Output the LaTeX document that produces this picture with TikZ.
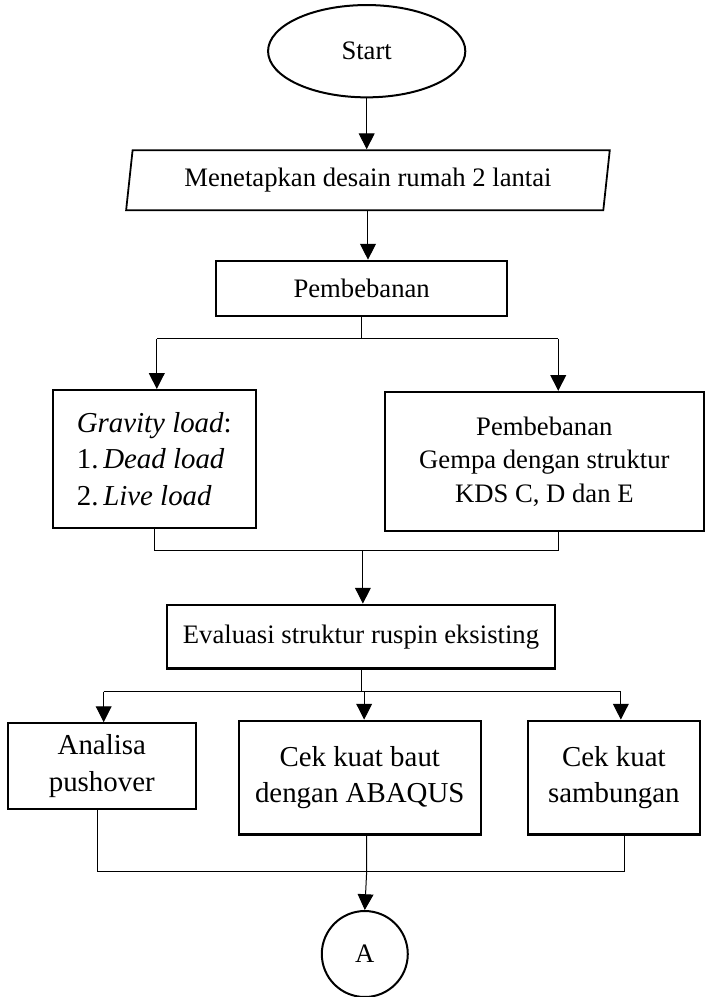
\documentclass[tikz,border=0pt]{standalone}
\usepackage{fontspec}
\setmainfont{Liberation Serif}
\usetikzlibrary{shapes.geometric,arrows.meta,positioning,calc}

\begin{document}
\begin{tikzpicture}[
    font=\fontsize{12}{15}\selectfont,
    big/.style={font=\fontsize{13}{16.5}\selectfont},
    term/.style={draw, ellipse, line width=0.9pt, minimum width=3.12cm, minimum height=1.46cm, inner sep=0pt},
    io/.style={draw, trapezium, trapezium left angle=75, trapezium right angle=105, trapezium stretches body, line width=0.8pt, minimum width=7.65cm, minimum height=0.95cm, inner sep=0pt},
    proc/.style={draw, rectangle, line width=1pt, align=center, inner sep=2pt},
    conn/.style={draw, circle, line width=0.9pt, minimum size=1.36cm, inner sep=0pt},
    link/.style={line width=0.45pt},
    arrow/.style={-{Triangle[length=2.5mm, width=2.5mm]}, line width=0.45pt}
]
\useasboundingbox (0,0) rectangle (11.18,-15.77);

\node[term] (start) at (5.80,-0.81) {Start};
\node[io] (desain) at (5.82,-2.85) {Menetapkan desain rumah 2 lantai};
\node[proc, minimum width=4.60cm, minimum height=0.87cm] (beban) at (5.72,-4.56) {Pembebanan};

\node[proc, big, align=left, minimum width=3.21cm, minimum height=2.18cm] (gravity) at (2.44,-7.26) {\textit{Gravity load}:\\1.\,\textit{Dead load}\\2.\,\textit{Live load}};
\node[proc, minimum width=5.05cm, minimum height=2.20cm] (gempa) at (8.61,-7.30) {Pembebanan\\Gempa dengan struktur\\KDS C, D dan E};

\node[proc, minimum width=6.14cm, minimum height=1.01cm] (evaluasi) at (5.71,-10.07) {Evaluasi struktur ruspin eksisting};

\node[proc, big, minimum width=2.97cm, minimum height=1.36cm] (pushover) at (1.61,-12.12) {Analisa\\pushover};
\node[proc, big, minimum width=3.83cm, minimum height=1.80cm] (baut) at (5.69,-12.30) {Cek kuat baut\\dengan ABAQUS};
\node[proc, big, minimum width=2.72cm, minimum height=1.80cm] (sambungan) at (9.71,-12.30) {Cek kuat\\sambungan};

\node[conn] (A) at (5.77,-15.09) {A};

\coordinate (s1l) at (2.48,-5.36);
\coordinate (s1r) at (8.83,-5.36);
\coordinate (m1l) at (2.45,-8.71);
\coordinate (m1r) at (8.84,-8.71);
\coordinate (m1c) at (5.74,-8.71);
\coordinate (s2l) at (1.64,-10.94);
\coordinate (s2c) at (5.76,-10.94);
\coordinate (s2r) at (9.82,-10.94);
\coordinate (m2l) at (1.55,-13.78);
\coordinate (m2c) at (5.80,-13.78);
\coordinate (m2r) at (9.87,-13.78);

\draw[arrow] (start.south) -- (start.south |- desain.north);
\draw[arrow] (desain.south) -- (desain.south |- beban.north);

\draw[link] (beban.south) -- (beban.south |- s1l);
\draw[link] (s1l) -- (s1r);
\draw[arrow] (s1l) -- (s1l |- gravity.north);
\draw[arrow] (s1r) -- (s1r |- gempa.north);

\draw[link] (m1l |- gravity.south) -- (m1l) -- (m1r) -- (m1r |- gempa.south);
\draw[arrow] (m1c) -- (m1c |- evaluasi.north);

\draw[link] (evaluasi.south) -- (evaluasi.south |- s2c);
\draw[link] (s2l) -- (s2r);
\draw[arrow] (s2l) -- (s2l |- pushover.north);
\draw[arrow] (s2c) -- (s2c |- baut.north);
\draw[arrow] (s2r) -- (s2r |- sambungan.north);

\draw[link] (m2l |- pushover.south) -- (m2l) -- (m2r) -- (m2r |- sambungan.south);
\draw[arrow] (m2c |- baut.south) -- (m2c) -- (A.north);
\end{tikzpicture}
\end{document}
